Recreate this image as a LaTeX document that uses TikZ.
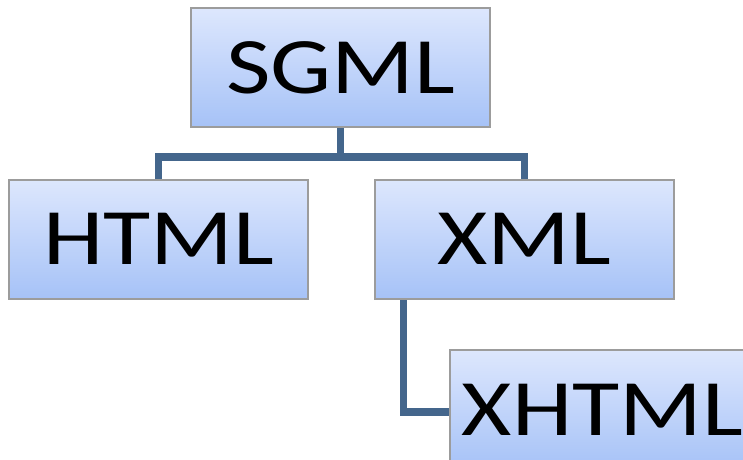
\documentclass[tikz,border=0pt]{standalone}
\usepackage{fontspec}
\setmainfont{Carlito}
\usetikzlibrary{calc,backgrounds}
\definecolor{boxtop}{HTML}{DDE7FD}
\definecolor{boxbot}{HTML}{A6C2F7}
\definecolor{boxline}{HTML}{9C9C9C}
\definecolor{connc}{HTML}{44668C}
\tikzset{
  langbox/.style={rectangle, minimum width=299pt, minimum height=119pt,
    top color=boxtop, bottom color=boxbot, draw=boxline, line width=2pt,
    inner sep=0pt, font=\fontsize{80}{80}\selectfont},
  conn/.style={draw=connc, line width=7.5pt},
}
\newcommand{\wide}[1]{\scalebox{1.21}[1]{#1}}
\begin{document}
\begin{tikzpicture}[x=1pt,y=-1pt]
\useasboundingbox (0,0) rectangle (743,459);
\clip (0,0) rectangle (743,459);
\node[langbox] (sgml) at (340.5,67.5) {\wide{SGML}};
\node[langbox] (html) at (158.5,239) {\wide{HTML}};
\node[langbox] (xml) at (524.5,239) {\wide{XML}};
\node[langbox, anchor=north west] (xhtml) at (449,349) {\hspace*{6pt}\wide{XHTML}};
\coordinate (junc) at ($(sgml.south)+(0,29)$);
\coordinate (xdrop) at ($(xml.south west)+(29.5,0)$);
\begin{scope}[on background layer]
\draw[conn] (sgml.south) -- (junc);
\draw[conn] (junc) -| (html.north);
\draw[conn] (junc) -| (xml.north);
\draw[conn] (xdrop) |- ($(xhtml.west)+(0,2.5)$);
\end{scope}
\end{tikzpicture}
\end{document}
